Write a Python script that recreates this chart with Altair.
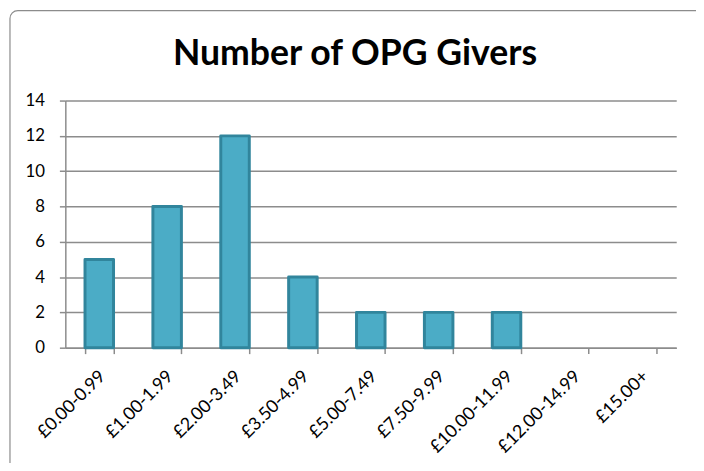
import altair as alt
import pandas as pd

categories = ["£0.00-0.99", "£1.00-1.99", "£2.00-3.49", "£3.50-4.99", "£5.00-7.49",
              "£7.50-9.99", "£10.00-11.99", "£12.00-14.99", "£15.00+"]
counts = [5, 8, 12, 4, 2, 2, 2, 0, 0]
title_text = "Number of OPG Givers"

df = pd.DataFrame({"band": categories, "count": counts})

FONT = "Lato"

frame = alt.Chart(pd.DataFrame({"a": [0]})).mark_rect(
    fill="transparent", stroke="#8c8c8c", strokeWidth=1.2, cornerRadius=8, clip=False
).encode(
    x=alt.value(-56), x2=alt.value(700), y=alt.value(-91), y2=alt.value(420)
)

title = alt.Chart(pd.DataFrame({"t": [title_text]})).mark_text(
    font=FONT, fontSize=36, fontWeight="bold", color="black",
    align="center", baseline="alphabetic", clip=False
).encode(text="t:N", x=alt.value(293), y=alt.value(-36))

bars = alt.Chart(df).mark_bar(
    fill="#4bacc6", stroke="#31859c", strokeWidth=3, strokeJoin="round"
).encode(
    x=alt.X("band:N", sort=categories,
            scale=alt.Scale(domain=categories, paddingInner=0.58, paddingOuter=0.29),
            axis=alt.Axis(title=None, labelAngle=-45, labelAlign="right",
                          labelBaseline="middle", labelFontSize=18, labelFont=FONT,
                          labelColor="black", labelPadding=20, labelOffset=3,
                          tickBand="extent", labelLimit=300,
                          tickSize=6, tickColor="#8c8c8c", domainColor="#8c8c8c",
                          tickWidth=1.5, domainWidth=1.5, grid=False)),
    y=alt.Y("count:Q", scale=alt.Scale(domain=[0, 14]),
            axis=alt.Axis(title=None, values=list(range(0, 15, 2)), labelFontSize=17,
                          labelFont=FONT, labelColor="black", labelPadding=15,
                          tickSize=6, tickColor="#8c8c8c", domainColor="#8c8c8c",
                          tickWidth=1.5, domainWidth=1.5, gridColor="#8c8c8c",
                          gridWidth=1.5)),
    strokeOpacity=alt.condition("datum.count > 0", alt.value(1), alt.value(0)),
)

chart = alt.layer(bars, frame, title).properties(
    width=618, height=250,
    padding={"left": 58, "top": 91, "right": 20, "bottom": 114},
    autosize=alt.AutoSizeParams(type="none"),
).configure_view(stroke=None)

chart.save("out.html", embed_options={"renderer": "svg", "actions": False})
